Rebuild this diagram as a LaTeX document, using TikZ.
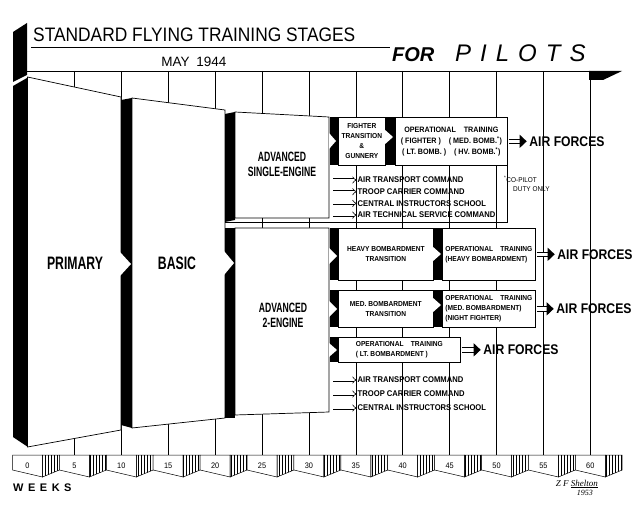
\documentclass[tikz,border=0pt]{standalone}
\usepackage{fontspec}
\setmainfont{Liberation Sans}
\newfontfamily\titlefont[FakeStretch=0.89]{Liberation Sans}
\newfontfamily\stagefont[FakeStretch=0.68]{Liberation Sans}
\newfontfamily\advfont[FakeStretch=0.64]{Liberation Sans}
\newfontfamily\forcesfont[FakeStretch=0.87]{Liberation Sans}
\newfontfamily\boxfont[FakeStretch=0.92]{Liberation Sans}
\newfontfamily\signfont{Liberation Serif}
\usetikzlibrary{positioning,arrows.meta,patterns,calc}

\tikzset{
  gridline/.style={line width=0.5pt},
  face/.style={draw, fill=white, line width=0.7pt},
  stagebox/.style={draw, fill=white, line width=0.7pt, inner sep=0pt, anchor=north west, align=center},
  stagename/.style={font=\stagefont\bfseries\fontsize{18}{20}\selectfont, align=center},
  advname/.style={font=\advfont\bfseries\fontsize{13.5}{15}\selectfont, align=center},
  boxtext/.style={font=\boxfont\bfseries\fontsize{7.2}{10}\selectfont},
  listtext/.style={font=\boxfont\bfseries\fontsize{8.3}{9}\selectfont, anchor=west, inner sep=0.5pt},
  forces/.style={font=\forcesfont\bfseries\fontsize{14}{15}\selectfont, inner sep=0.5pt},
  toforces/.style={double, double distance=3.5pt, line width=1pt, -{Triangle[length=7pt,width=13pt]}, shorten >=2pt, shorten <=1pt},
  tocommand/.style={double, double distance=1.8pt, line width=0.6pt, -{Implies}},
  weeklabel/.style={font=\boxfont\fontsize{8}{9}\selectfont, inner sep=0pt},
}

\begin{document}
\begin{tikzpicture}[x=1pt, y=-1pt]
\useasboundingbox (0,0) rectangle (640,505);

% week grid
\foreach \k in {1,...,12}
  \draw[gridline] ({27.5+46.9*\k},71) -- ({27.5+46.9*\k},455);
\draw[gridline] (27,71) -- (590,71);
\fill (589,71) -- (622,71) -- (603,80) -- (589,80) -- cycle;

% heading
\node[font=\titlefont\fontsize{19.5}{20}\selectfont, anchor=base west, inner sep=0pt] (title) at (33,42) {STANDARD FLYING TRAINING STAGES};
\draw[line width=0.6pt] (31,47) -- (390,47);
\node[font=\bfseries\itshape\fontsize{20}{22}\selectfont, anchor=base west, inner sep=0pt] (for) at (392,62) {FOR};
\node[font=\itshape\fontsize{24}{26}\selectfont, anchor=base west, inner sep=0pt] (pilots) at (455,62) {P\hspace{9pt}I\hspace{9pt}L\hspace{9pt}O\hspace{9pt}T\hspace{9pt}S};
\node[font=\fontsize{13.5}{15}\selectfont, anchor=base, inner sep=0pt] (date) at (194,67) {MAY\enspace 1944};
\fill (13,32) -- (27,23) -- (27,75) -- (13,82) -- cycle;

% primary and basic
\fill (13,86) -- (27,78) -- (28,447) -- (13,437) -- cycle;
\draw[face] (27.5,77) -- (121,97) -- (121,430) -- (27.5,447) -- cycle;
\node[stagename] (primary) at (75,263) {PRIMARY};
\fill (121,100) -- (132,98) -- (132,428) -- (121,425) -- cycle;
\fill[white] (120,252) -- (131,264) -- (120,276) -- cycle;
\draw[face] (132,98) -- (225,110) -- (225,418) -- (132,428) -- cycle;
\node[stagename] (basic) at (177,263) {BASIC};

% advanced
\fill (225,114) -- (235,112) -- (235,220) -- (225,222) -- cycle;
\draw[face] (235,112) -- (329,117) -- (329,218) -- (235,218) -- cycle;
\node[advname] (single) at (282,164) {ADVANCED\\SINGLE-ENGINE};
\draw[line width=0.7pt] (225,222) -- (507,222) -- (507,165);
\fill (225,228) rectangle (235,418);
\fill[white] (224,251) -- (234,263) -- (224,275) -- cycle;
\draw[face] (235,228) -- (329,228) -- (329,412) -- (235,415) -- cycle;
\node[advname] (twin) at (283,315) {ADVANCED\\2-ENGINE};

% single-engine row
\fill (330,117) rectangle (338,165);
\fill[white] (329,133) -- (336,141) -- (329,149) -- cycle;
\node[stagebox, minimum width=47pt, minimum height=48pt, boxtext] (fighter) at (338,117) {FIGHTER\\TRANSITION\\\&\\GUNNERY};
\fill (385,117) rectangle (395,165);
\fill[white] (384,129) -- (393,137) -- (384,145) -- cycle;
\node[stagebox, minimum width=112pt, minimum height=48pt, boxtext, font=\boxfont\bfseries\fontsize{7.8}{10.5}\selectfont] (opfighter) at (395,117) {OPERATIONAL\quad TRAINING\\[1pt]( FIGHTER )\quad ( MED. BOMB.\textsuperscript{*})\\( LT. BOMB. )\quad ( HV. BOMB.\textsuperscript{*})};
\node[forces, right=21pt of opfighter] (af1) {AIR FORCES};
\draw[toforces] (opfighter) -- (af1);
\node[font=\boxfont\fontsize{7}{8.5}\selectfont, align=left, anchor=north west, inner sep=0pt] (copilot) at (504,176) {\textsuperscript{*}CO-PILOT\\\hspace{9pt}DUTY ONLY};

\node[listtext] (se1) at (357,180) {AIR TRANSPORT COMMAND};
\node[listtext, below=11.7pt of se1.west, anchor=west] (se2) {TROOP CARRIER COMMAND};
\node[listtext, below=11.7pt of se2.west, anchor=west] (se3) {CENTRAL INSTRUCTORS SCHOOL};
\node[listtext, below=11.7pt of se3.west, anchor=west] (se4) {AIR TECHNICAL SERVICE COMMAND};

% two-engine rows
\fill (330,228) rectangle (338,280);
\fill[white] (329,248) -- (337,256) -- (329,264) -- cycle;
\node[stagebox, minimum width=95pt, minimum height=52pt, boxtext] (heavy) at (338,228) {HEAVY BOMBARDMENT\\TRANSITION};
\fill (433,228) rectangle (442,280);
\fill[white] (432,246) -- (441,254) -- (432,262) -- cycle;
\node[stagebox, minimum width=93pt, minimum height=52pt, boxtext, align=left] (opheavy) at (442,228) {OPERATIONAL\quad TRAINING\\(HEAVY BOMBARDMENT)};
\node[forces, right=21pt of opheavy] (af2) {AIR FORCES};
\draw[toforces] (opheavy) -- (af2);

\fill (330,290) rectangle (338,327);
\fill[white] (329,301) -- (337,309) -- (329,317) -- cycle;
\node[stagebox, minimum width=95pt, minimum height=37pt, boxtext] (medium) at (338,290) {MED. BOMBARDMENT\\TRANSITION};
\fill (433,290) rectangle (442,327);
\fill[white] (432,297) -- (441,305) -- (432,313) -- cycle;
\node[stagebox, minimum width=93pt, minimum height=37pt, boxtext, align=left] (opmedium) at (442,290) {OPERATIONAL\quad TRAINING\\(MED. BOMBARDMENT)\\(NIGHT FIGHTER)};
\node[forces, right=20pt of opmedium] (af3) {AIR FORCES};
\draw[toforces] (opmedium) -- (af3);

\fill (330,337) rectangle (338,362);
\fill[white] (329,343) -- (337,350) -- (329,357) -- cycle;
\node[stagebox, minimum width=122pt, minimum height=25pt, boxtext, align=left] (oplight) at (338,337) {OPERATIONAL\quad TRAINING\\( LT. BOMBARDMENT )};
\node[forces, right=22pt of oplight] (af4) {AIR FORCES};
\draw[toforces] (oplight) -- (af4);

\node[listtext] (te1) at (357,380) {AIR TRANSPORT COMMAND};
\node[listtext, below=14pt of te1.west, anchor=west] (te2) {TROOP CARRIER COMMAND};
\node[listtext, below=14pt of te2.west, anchor=west] (te3) {CENTRAL INSTRUCTORS SCHOOL};

\foreach \n in {se1,se2,se3,se4,te1,te2,te3}
  \draw[tocommand] ([xshift=-24pt]\n.west) -- (\n.west);

% week ribbon
\foreach \k [evaluate=\k as \xc using 27.5+46.9*\k, evaluate=\k as \wk using int(5*\k)] in {0,...,12}{
  \draw[face, line width=0.5pt] (\xc-15,455) -- (\xc+15,455) -- (\xc+15,477) -- (\xc-15,470) -- cycle;
  \draw[line width=0.5pt, pattern=vertical lines] (\xc+15,455) -- (\xc+31.9,455) -- (\xc+31.9,470) -- (\xc+15,477) -- cycle;
  \node[weeklabel] (w\wk) at (\xc,466) {\wk};
}
\node[font=\bfseries\fontsize{11}{12}\selectfont, anchor=base west, inner sep=0pt] (weeks) at (13,491) {W\hspace{4.5pt}E\hspace{4.5pt}E\hspace{4.5pt}K\hspace{4.5pt}S};

\node[font=\signfont\itshape\fontsize{9}{10}\selectfont, anchor=base east, inner sep=0pt] (sign) at (598,486) {Z F \underline{Shelton}};
\node[font=\signfont\itshape\fontsize{8}{9}\selectfont, below=2pt of sign.south, xshift=8pt, inner sep=0pt] (signyear) {1953};
\end{tikzpicture}
\end{document}
